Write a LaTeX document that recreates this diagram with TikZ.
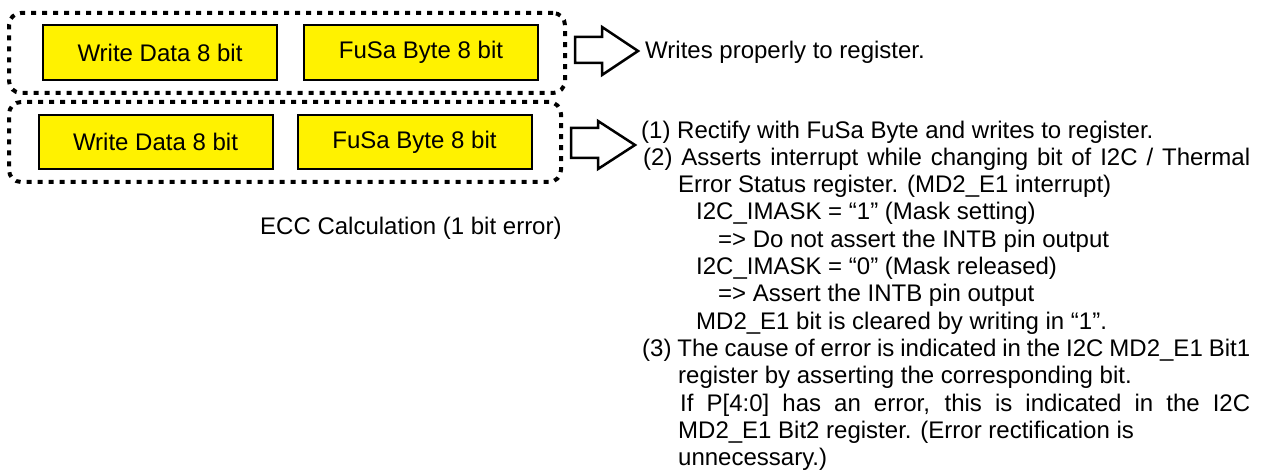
\documentclass[tikz,border=0pt]{standalone}
\usepackage{fontspec}
\setmainfont{Liberation Sans}
\usetikzlibrary{positioning}

\begin{document}
\begin{tikzpicture}[x=1pt, y=-1pt,
  every node/.style={font=\fontsize{24}{27.3}\selectfont},
  field/.style   ={draw, line width=2pt, fill=yellow, inner sep=0pt,
                   minimum width=234pt, minimum height=55pt},
  frame/.style   ={draw, line width=4pt, dash pattern=on 5pt off 6pt,
                   rounded corners=12pt, inner sep=0pt},
  blockarr/.style={draw, line width=2.5pt, fill=white, line join=miter},
  note/.style    ={inner sep=0pt, align=left}
]
\useasboundingbox (0,0) rectangle (1274,470);

%% --- Normal write (top) --------------------------------------
\node[frame, minimum width=556pt, minimum height=80pt] (grp_ok) at (287,53) {};
\node[field] (wd_ok) at (160,52.5) {Write Data 8 bit};
\node[field, right=25pt of wd_ok] (fb_ok) {FuSa Byte 8 bit};

%% --- 1 bit error (bottom) ------------------------------------
\node[frame, minimum width=552pt, minimum height=80pt] (grp_err) at (285,142) {};
\node[field, minimum height=54pt] (wd_err) at (155.5,142) {Write Data 8 bit};
\node[field, minimum height=54pt, right=23pt of wd_err] (fb_err) {FuSa Byte 8 bit};

\node[anchor=base west, inner sep=0pt] (ecc) at (260,235)
     {ECC Calculation (1 bit error)};

%% --- Results -------------------------------------------------
\node[anchor=base west, inner sep=0pt] (res_ok) at (645,59)
     {Writes properly to register.};
\node[note, anchor=north west] (res_err) at (641,120.5)
     {(1) Rectify with FuSa Byte and writes to register.\\
      \hspace*{2pt}\makebox[607pt][s]{(2) Asserts interrupt while changing bit of I2C / Thermal}\\
      \hspace*{37pt}Error Status register. (MD2\_E1 interrupt)\\
      \hspace*{55pt}I2C\_IMASK = “1” (Mask setting)\\
      \hspace*{77pt}=> Do not assert the INTB pin output\\
      \hspace*{55pt}I2C\_IMASK = “0” (Mask released)\\
      \hspace*{77pt}=> Assert the INTB pin output\\
      \hspace*{55pt}MD2\_E1 bit is cleared by writing in “1”.\\
      \hspace*{1pt}\makebox[608pt][s]{(3) The cause of error is indicated in the I2C MD2\_E1 Bit1}\\
      \hspace*{37pt}register by asserting the corresponding bit.\\
      \hspace*{39pt}\makebox[570pt][s]{If P[4:0] has an error, this is indicated in the I2C}\\
      \hspace*{37pt}MD2\_E1 Bit2 register. (Error rectification is\\
      \hspace*{37pt}unnecessary.)};

%% --- Block arrows --------------------------------------------
% frame -> normal result
\draw[blockarr] (575,37) -- (602,37) -- (602,27) -- (638,51)
     -- (602,75) -- (602,63) -- (575,63) -- cycle;
% frame -> error handling
\draw[blockarr] (571,128) -- (598,128) -- (598,121) -- (635,145)
     -- (598,169) -- (598,158) -- (571,158) -- cycle;

\end{tikzpicture}
\end{document}
